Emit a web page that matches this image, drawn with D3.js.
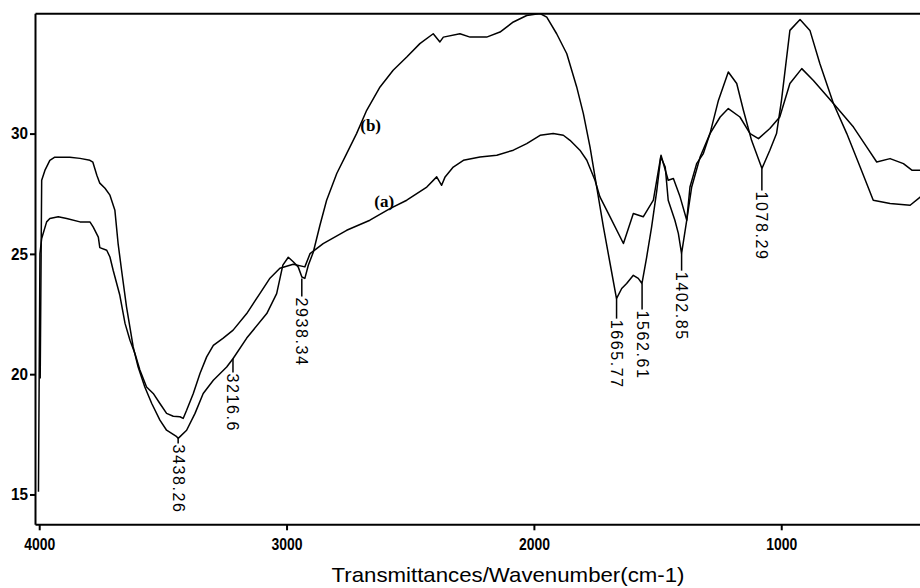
<!DOCTYPE html>
<html>
<head>
<meta charset="utf-8">
<script src="https://cdn.jsdelivr.net/npm/d3@7"></script>
<style>
  body { margin: 0; background: #fff; }
  svg { display: block; }
</style>
</head>
<body>
<div id="chart"></div>
<script>
// spectrum (a): wavenumber / transmittance
const wnA = [4003, 3997, 3990, 3970, 3957, 3923, 3889, 3835, 3795, 3782, 3761, 3755, 3727, 3714, 3701, 3674, 3653, 3633, 3613, 3593,
  3566, 3539, 3512, 3485, 3458, 3431, 3418, 3404, 3377, 3350, 3323, 3296, 3256, 3216, 3161, 3108, 3067, 3027, 2973, 2926,
  2905, 2852, 2757, 2663, 2582, 2514, 2433, 2393, 2373, 2359, 2326, 2285, 2218, 2150, 2083, 2029, 1975, 1922, 1881, 1854,
  1814, 1786, 1753, 1733, 1692, 1638, 1598, 1558, 1517, 1486, 1457, 1436, 1409, 1382, 1362, 1328, 1288, 1247, 1214, 1167,
  1126, 1092, 1046, 1006, 965, 917, 870, 789, 708, 654, 614, 560, 506, 472, 437];
const tA = [15.11, 25.01, 25.64, 26.33, 26.47, 26.54, 26.47, 26.33, 26.33, 26.12, 25.70, 25.26, 25.15, 24.87, 24.32, 23.28, 22.11, 21.41, 20.86, 20.17,
  19.47, 19.20, 18.78, 18.37, 18.25, 18.23, 18.16, 18.50, 19.20, 20.03, 20.72, 21.20, 21.50, 21.83, 22.52, 23.35, 23.99, 24.40, 24.57, 24.46,
  25.01, 25.43, 25.98, 26.40, 26.88, 27.23, 27.78, 28.20, 27.85, 28.20, 28.61, 28.89, 29.03, 29.10, 29.31, 29.58, 29.93, 30.00, 29.93, 29.72,
  29.31, 28.89, 28.06, 27.37, 26.54, 25.43, 26.68, 26.54, 27.23, 29.10, 28.06, 28.13, 27.37, 26.40, 27.78, 29.03, 30.00, 30.69, 31.04, 30.69,
  30.00, 29.79, 30.21, 30.69, 32.08, 32.70, 32.21, 31.25, 30.27, 29.44, 28.82, 28.96, 28.75, 28.48, 28.48];

// spectrum (b)
const wnB = [3996, 3990, 3977, 3957, 3937, 3876, 3835, 3795, 3783, 3767, 3755, 3734, 3714, 3694, 3681, 3667, 3647, 3620, 3600, 3573,
  3545, 3512, 3485, 3444, 3438, 3404, 3370, 3337, 3296, 3242, 3216, 3161, 3080, 3040, 3015, 2993, 2973, 2953, 2938, 2926,
  2912, 2892, 2865, 2838, 2797, 2757, 2717, 2676, 2622, 2569, 2514, 2461, 2407, 2380, 2366, 2299, 2258, 2191, 2137, 2083,
  2029, 1975, 1948, 1908, 1867, 1827, 1800, 1773, 1746, 1719, 1692, 1666, 1645, 1625, 1598, 1578, 1563, 1544, 1524, 1503,
  1487, 1469, 1457, 1430, 1416, 1403, 1382, 1369, 1342, 1315, 1288, 1254, 1214, 1180, 1153, 1120, 1078, 1046, 1019, 999,
  965, 924, 884, 844, 789, 735, 681, 628, 560, 479, 437];
const tB = [19.82, 28.06, 28.47, 28.89, 29.02, 29.02, 28.97, 28.89, 28.81, 28.27, 27.94, 27.73, 27.44, 26.81, 25.43, 24.32, 22.80, 21.13, 20.30, 19.47,
  18.78, 18.09, 17.67, 17.40, 17.33, 17.67, 18.37, 19.20, 19.75, 20.30, 20.65, 21.50, 22.52, 23.35, 24.53, 24.86, 24.67, 24.46, 24.04, 23.98,
  24.53, 25.07, 26.19, 27.23, 28.34, 29.17, 30.00, 30.97, 31.94, 32.63, 33.18, 33.74, 34.15, 33.81, 34.01, 34.15, 34.01, 34.01, 34.22, 34.64,
  34.91, 34.99, 34.84, 34.15, 33.32, 31.94, 30.83, 29.44, 27.78, 26.12, 24.60, 23.14, 23.56, 23.77, 24.11, 23.98, 23.77, 24.87, 26.12, 27.64,
  29.03, 28.61, 27.23, 26.40, 25.85, 25.01, 26.40, 27.78, 28.75, 29.17, 30.00, 31.38, 32.56, 32.08, 30.97, 29.72, 28.55, 29.31, 30.00, 31.38,
  34.29, 34.74, 34.29, 32.91, 31.25, 30.00, 28.61, 27.23, 27.09, 27.02, 27.37];

// labelled minima on (b)
const peakWn = [3438.26, 3216.6, 2938.34, 1665.77, 1562.61, 1402.85, 1078.29];
const peakT = [17.33, 20.65, 23.98, 23.14, 23.77, 25.01, 28.55];
const peakText = ["3438.26", "3216.6", "2938.34", "1665.77", "1562.61", "1402.85", "1078.29"];
const leaderLen = [5, 14, 18, 20, 26, 17, 22];

const xTicks = [4000, 3000, 2000, 1000];
const yTicks = [15, 20, 25, 30];
const xTitle = "Transmittances/Wavenumber(cm-1)";

const width = 920, height = 588;
const plotL = 35, plotR = 920, plotT = 13.3, plotB = 524.3;

const svg = d3.select("#chart").append("svg")
  .attr("width", width)
  .attr("height", height);

const x = d3.scaleLinear().domain([4017, 439]).range([plotL, plotR]);
const y = d3.scaleLinear().domain([13.76, 35]).range([plotB, plotT]);

svg.append("clipPath").attr("id", "plot")
  .append("rect").attr("x", plotL).attr("y", plotT)
  .attr("width", plotR - plotL).attr("height", plotB - plotT);

const line = d3.line().x(d => x(d[0])).y(d => y(d[1]));

[[wnA, tA], [wnB, tB]].forEach(([wn, t]) => {
  svg.append("path")
    .datum(wn.map((w, i) => [w, t[i]]))
    .attr("clip-path", "url(#plot)")
    .attr("fill", "none")
    .attr("stroke", "#000")
    .attr("stroke-width", 1.5)
    .attr("stroke-linejoin", "round")
    .attr("d", line);
});

// axes
const tickFont = "'Liberation Sans Narrow', 'Arial Narrow', 'Liberation Sans', Arial, sans-serif";

const gx = svg.append("g")
  .attr("transform", `translate(0,${plotB})`)
  .call(d3.axisBottom(x).tickValues(xTicks).tickSize(6).tickSizeOuter(0).tickFormat(d3.format("d")));
gx.selectAll("text")
  .attr("dy", "1.05em")
  .attr("textLength", 31)
  .attr("lengthAdjust", "spacingAndGlyphs");

const gy = svg.append("g")
  .attr("transform", `translate(${plotL},0)`)
  .call(d3.axisLeft(y).tickValues(yTicks).tickSize(5).tickSizeOuter(0));
gy.selectAll("text")
  .attr("x", -7)
  .attr("textLength", 17)
  .attr("lengthAdjust", "spacingAndGlyphs");

svg.append("g")
  .attr("transform", `translate(0,${plotT})`)
  .call(d3.axisTop(x).tickValues([]).tickSizeOuter(0));

svg.selectAll(".domain, .tick line")
  .attr("stroke", "#000")
  .attr("stroke-width", 2);
svg.selectAll(".tick text")
  .attr("fill", "#000")
  .style("font-family", tickFont)
  .style("font-size", "16px")
  .style("font-weight", "bold");

// peak labels
const peaks = svg.append("g");
peakWn.forEach((w, i) => {
  const px = x(w), py = y(peakT[i]), ly = py + leaderLen[i];
  peaks.append("line")
    .attr("x1", px).attr("x2", px)
    .attr("y1", py).attr("y2", ly)
    .attr("stroke", "#000").attr("stroke-width", 1.5);
  peaks.append("text")
    .attr("transform", `translate(${px},${ly + 1}) rotate(90)`)
    .attr("dominant-baseline", "central")
    .style("font-family", "'Liberation Sans', Arial, sans-serif")
    .style("font-size", "16px")
    .style("letter-spacing", "1.6px")
    .text(peakText[i]);
});

// series labels
svg.append("text")
  .attr("x", x(2660)).attr("y", y(30.1))
  .attr("text-anchor", "middle")
  .style("font-family", "'Liberation Serif', 'Times New Roman', serif")
  .style("font-weight", "bold")
  .style("font-size", "17px")
  .text("(b)");
svg.append("text")
  .attr("x", x(2605)).attr("y", y(26.95))
  .attr("text-anchor", "middle")
  .style("font-family", "'Liberation Serif', 'Times New Roman', serif")
  .style("font-weight", "bold")
  .style("font-size", "17px")
  .text("(a)");

// x title
svg.append("text")
  .attr("x", 508).attr("y", 582)
  .attr("text-anchor", "middle")
  .attr("textLength", 353)
  .attr("lengthAdjust", "spacingAndGlyphs")
  .style("font-family", "'Liberation Sans', Arial, sans-serif")
  .style("font-size", "21px")
  .text(xTitle);
</script>
</body>
</html>
